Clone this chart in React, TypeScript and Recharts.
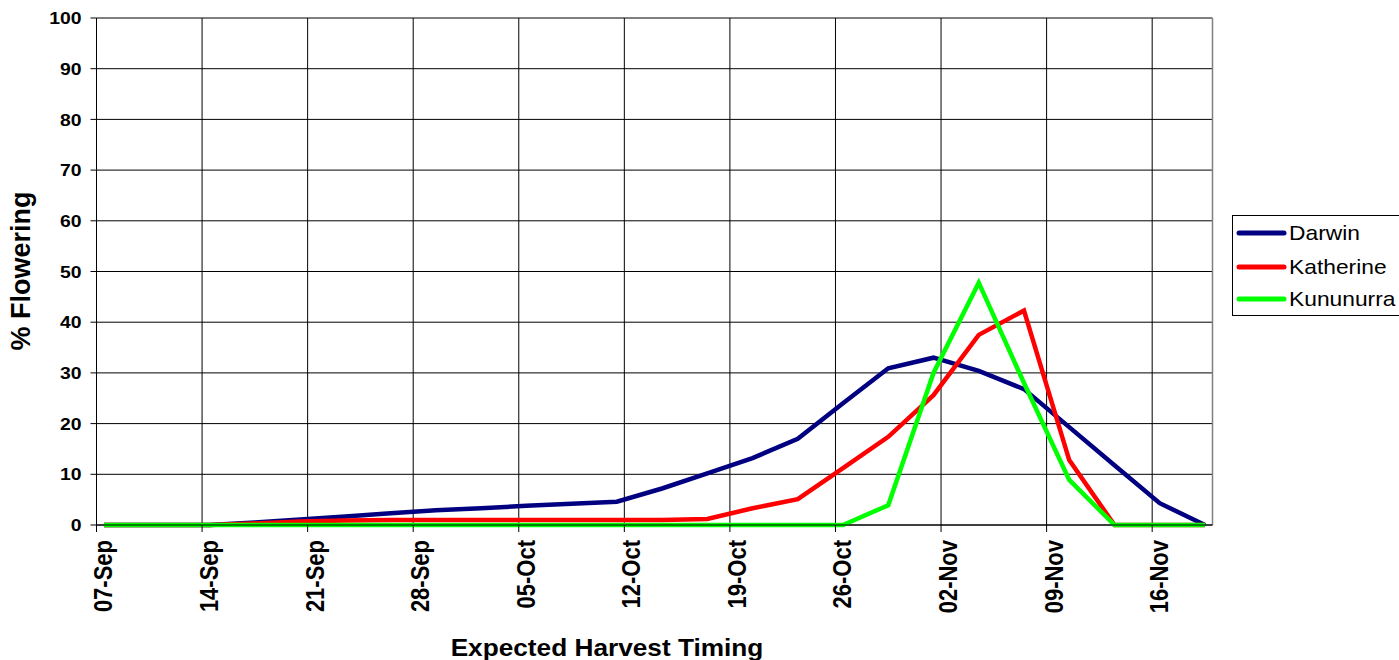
import React from 'react';
import { LineChart, Line, XAxis, YAxis, CartesianGrid, Legend, ReferenceLine } from 'recharts';

// Day offsets from 07-Sep of each observation
const dayOffsets = [0.5, 4.5, 7.5, 10.5, 13.5, 16.5, 19.5, 22.5, 25.5, 28.5, 31.5, 34.5, 37.5, 40.5, 43.5, 46.5, 49.5, 52.5, 55.5, 58.5, 61.5, 64.5, 67.5, 70.5, 73.5];
const darwin = [0, 0, 0, 0.5, 1.1, 1.7, 2.3, 2.9, 3.3, 3.8, 4.2, 4.6, 7.2, 10.2, 13.2, 17.0, 24.0, 30.9, 33.0, 30.4, 26.8, 19.3, 11.8, 4.3, 0];
const katherine = [0, 0, 0, 0.3, 0.7, 0.9, 1.0, 1.0, 1.0, 1.0, 1.0, 1.0, 1.0, 1.2, 3.3, 5.1, 11.2, 17.4, 25.6, 37.5, 42.3, 12.8, 0, 0, 0];
const kununurra = [0, 0, 0, 0, 0, 0, 0, 0, 0, 0, 0, 0, 0, 0, 0, 0, 0, 3.9, 30.0, 47.8, 28.0, 8.9, 0, 0, 0];

const xTickDays = [0, 7, 14, 21, 28, 35, 42, 49, 56, 63, 70];
const xTickLabels = ['07-Sep', '14-Sep', '21-Sep', '28-Sep', '05-Oct', '12-Oct', '19-Oct', '26-Oct', '02-Nov', '09-Nov', '16-Nov'];
const yTicks = [0, 10, 20, 30, 40, 50, 60, 70, 80, 90, 100];

const seriesNames = ['Darwin', 'Katherine', 'Kununurra'];
const seriesColors = ['#000080', '#FF0000', '#00FF00'];

const xTitle = 'Expected Harvest Timing';
const yTitle = '% Flowering';

const data = dayOffsets.map((d, i) => ({
  day: d,
  Darwin: darwin[i],
  Katherine: katherine[i],
  Kununurra: kununurra[i],
}));

const FONT = "'Liberation Sans', Arial, sans-serif";
const STRETCH = 1.14;

const XTick = (props: any) => {
  const { x, y, payload } = props;
  const idx = xTickDays.indexOf(payload.value);
  return (
    <g transform={`translate(${x},${y}) rotate(-90) scale(1,${STRETCH})`}>
      <text x={0} y={14} textAnchor="end" fontFamily={FONT} fontWeight="bold" fontSize={22} fill="#000">
        {idx >= 0 ? xTickLabels[idx] : ''}
      </text>
    </g>
  );
};

const YTick = (props: any) => {
  const { x, y, payload } = props;
  return (
    <g transform={`translate(${x},${y}) scale(${STRETCH},1)`}>
      <text x={0} y={0} dy="0.36em" textAnchor="end" fontFamily={FONT} fontWeight="bold" fontSize={17} fill="#000">
        {payload.value}
      </text>
    </g>
  );
};

const XTitle = () => (
  <g transform={`translate(607,656) scale(${STRETCH},1)`}>
    <text x={0} y={0} textAnchor="middle" fontFamily={FONT} fontWeight="bold" fontSize={23} fill="#000">
      {xTitle}
    </text>
  </g>
);

const YTitle = () => (
  <g transform={`translate(30,271) rotate(-90)`}>
    <text x={0} y={0} textAnchor="middle" fontFamily={FONT} fontWeight="bold" fontSize={27} fill="#000">
      {yTitle}
    </text>
  </g>
);

const renderLegend = (props: any) => {
  const payload = props && props.payload && props.payload.length ? props.payload : seriesNames.map((n, i) => ({ value: n, color: seriesColors[i] }));
  const rowY = [18, 52, 84];
  return (
    <svg width={170} height={101} style={{ display: 'block' }}>
      <rect x={0.5} y={0.5} width={200} height={100} fill="#fff" stroke="#000" strokeWidth={1} />
      {payload.map((entry: any, i: number) => (
        <g key={entry.value}>
          <line x1={7} x2={52} y1={rowY[i]} y2={rowY[i]} stroke={entry.color} strokeWidth={5} strokeLinecap="round" />
          <g transform={`translate(57,${rowY[i] + 7}) scale(${STRETCH},1)`}>
            <text x={0} y={0} fontFamily={FONT} fontSize={20} fill="#000">{entry.value}</text>
          </g>
        </g>
      ))}
    </svg>
  );
};

export default function App() {
  return (
    <div style={{ position: 'absolute', left: 0, top: 0, width: 1399, height: 660, overflow: 'hidden', background: '#fff' }}>
      <LineChart width={1399} height={660} data={data} margin={{ top: 18, right: 186.5, bottom: 0, left: 0 }}>
        <CartesianGrid stroke="#000" strokeWidth={1} />
        <XAxis
          dataKey="day"
          type="number"
          domain={[0, 74]}
          ticks={xTickDays}
          interval={0}
          allowDataOverflow
          tick={<XTick />}
          tickSize={7}
          tickMargin={8}
          height={135}
          axisLine={{ stroke: '#000' }}
          tickLine={{ stroke: '#000' }}
          label={<XTitle />}
        />
        <YAxis
          type="number"
          domain={[0, 100]}
          ticks={yTicks}
          interval={0}
          width={96.5}
          tick={<YTick />}
          tickSize={6}
          tickMargin={9}
          axisLine={{ stroke: '#000' }}
          tickLine={{ stroke: '#000' }}
          label={<YTitle />}
        />
        <ReferenceLine x={74} stroke="#808080" strokeWidth={1.5} />
        {seriesNames.map((name, i) => (
          <Line
            key={name}
            type="linear"
            dataKey={name}
            name={name}
            stroke={seriesColors[i]}
            strokeWidth={4.5}
            dot={false}
            activeDot={false}
            isAnimationActive={false}
          />
        ))}
        <Legend
          layout="horizontal"
          verticalAlign="middle"
          align="center"
          wrapperStyle={{ position: 'absolute', left: 1232, top: 215, width: 170, height: 101 }}
          content={renderLegend}
        />
      </LineChart>
    </div>
  );
}
